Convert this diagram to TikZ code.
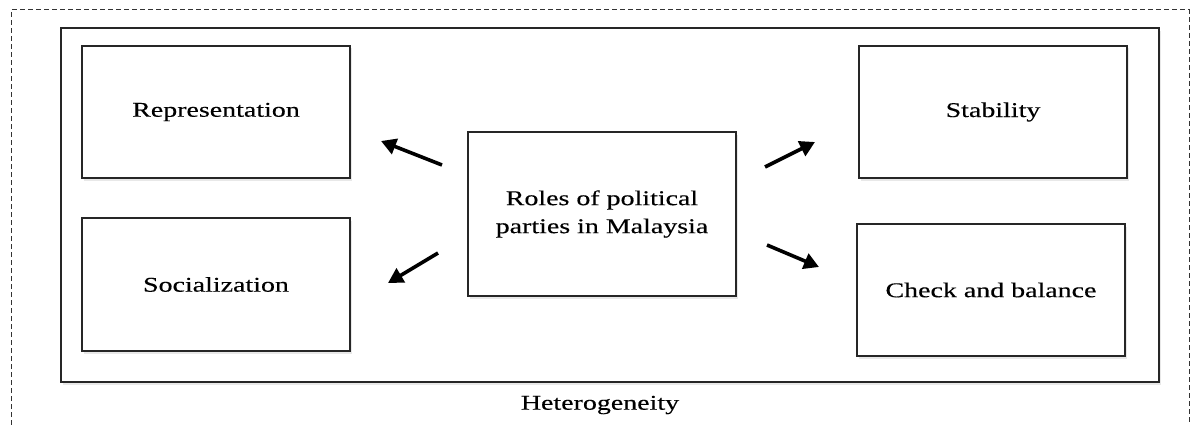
\documentclass[tikz,border=0pt]{standalone}
\usepackage{fontspec}
\setmainfont{Liberation Serif}[FakeStretch=1.33,FakeBold=0.3]
\usetikzlibrary{arrows.meta,shadows}
\begin{document}
\begin{tikzpicture}[x=1pt,y=-1pt,
  box/.style={draw=black!85,line width=1.8pt,fill=white,
    drop shadow={opacity=0.18,shadow xshift=1.5pt,shadow yshift=-2.5pt},
    inner sep=0pt,font=\fontsize{21}{28}\selectfont,align=center},
  frame/.style={draw=black!85,line width=1.8pt,fill=white,
    drop shadow={opacity=0.18,shadow xshift=1.5pt,shadow yshift=-3pt}},
  dashframe/.style={draw=black!80,line width=1pt,dash pattern=on 5pt off 3pt},
  arr/.style={line width=3.6pt,-{Triangle[length=15pt,width=16pt]}},
  lbl/.style={font=\fontsize{21}{24}\selectfont}]
\useasboundingbox (0,0) rectangle (1190,425);
\fill[white] (0,0) rectangle (1190,425);
% outer dashed border (open at bottom)
\draw[dashframe] (11,425) -- (11,10) -- (1189,10) -- (1189,425);
% inner frame
\node[frame,minimum width=1098pt,minimum height=354pt,inner sep=0pt] (inner) at (610,205) {};
% boxes
\node[box,minimum width=268pt,minimum height=132pt] (rep) at (216,112) {Representation};
\node[box,minimum width=268pt,minimum height=133pt] (soc) at (216,284.5) {Socialization};
\node[box,minimum width=268pt,minimum height=164pt] (roles) at (602,214) {Roles of political\\parties in Malaysia};
\node[box,minimum width=268pt,minimum height=132pt] (stab) at (993,112) {Stability};
\node[box,minimum width=268pt,minimum height=132pt] (check) at (991,290) {Check and balance};
\node[lbl] (het) at (600,405) {Heterogeneity};
% arrow end points
\coordinate (a1s) at (442,165); \coordinate (a1e) at (381,141);
\coordinate (a2s) at (438,253); \coordinate (a2e) at (388,283);
\coordinate (a3s) at (765,167); \coordinate (a3e) at (815,142);
\coordinate (a4s) at (767,245); \coordinate (a4e) at (819,267);
\draw[arr] (a1s) -- (a1e);
\draw[arr] (a2s) -- (a2e);
\draw[arr] (a3s) -- (a3e);
\draw[arr] (a4s) -- (a4e);
\end{tikzpicture}
\end{document}
